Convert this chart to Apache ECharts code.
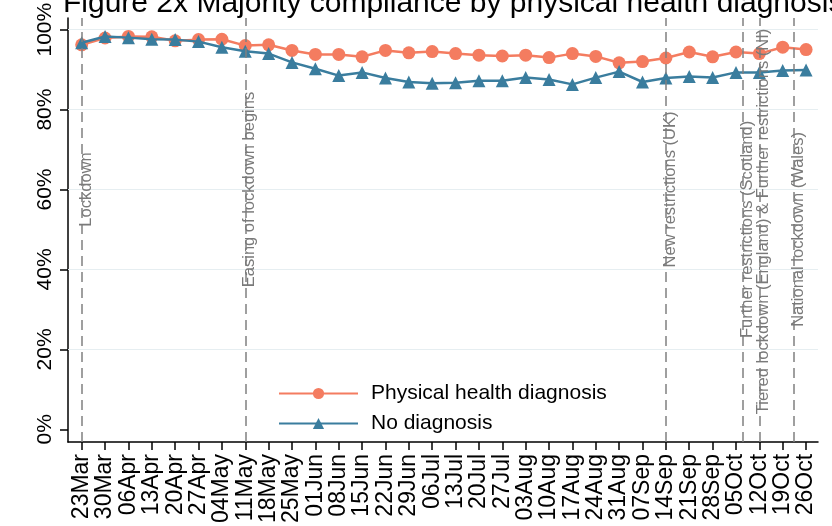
<!DOCTYPE html>
<head>
    <meta charset="UTF-8">
    <title>Majority compliance</title>
</head>
<body style="margin:0">
<div id="main" style="width:832px;height:526px"></div>
<script src="https://cdn.jsdelivr.net/npm/echarts@6.0.0/dist/echarts.min.js"></script>
<script type="text/javascript">
    var weeks = ['23Mar','30Mar','06Apr','13Apr','20Apr','27Apr','04May','11May','18May','25May',
        '01Jun','08Jun','15Jun','22Jun','29Jun','06Jul','13Jul','20Jul','27Jul','03Aug','10Aug',
        '17Aug','24Aug','31Aug','07Sep','14Sep','21Sep','28Sep','05Oct','12Oct','19Oct','26Oct'];
    var physical = [96.2,97.9,98.3,98.2,97.2,97.5,97.6,96.0,96.2,94.8,93.8,93.8,93.2,94.8,94.2,94.5,
        94.0,93.6,93.4,93.6,93.0,94.0,93.3,91.7,92.0,92.9,94.4,93.2,94.4,94.0,95.6,95.0];
    var noDiagnosis = [96.7,98.3,98.0,97.6,97.5,97.0,95.6,94.6,94.0,91.8,90.2,88.5,89.3,87.9,86.9,86.6,
        86.7,87.2,87.2,88.0,87.5,86.3,88.0,89.5,86.9,87.9,88.3,88.0,89.3,89.3,89.8,89.9];
    var yTicks = [0,20,40,60,80,100];
    // event dates as week index (fractional = between weeks)
    var eventAt = [0, 7, 25, 28.31, 29, 30.49];
    var eventNames = ['Lockdown','Easing of lockdown begins','New restrictions (UK)',
        'Further restrictions (Scotland)','Tiered lockdown (England) & Further restrictions (NI)',
        'National lockdown (Wales)'];
    var labelMid = [60, 60, 60, 50, 52, 50];

    var font = 'Liberation Sans, Arial, sans-serif';
    var orange = '#f47c60';
    var blue = '#3a7d9e';
    var idx = weeks.map(function (w, i) { return i; });

    var marks = [];
    yTicks.slice(1).forEach(function (t) {
        marks.push({yAxis: t, lineStyle: {color: '#e6eef1', width: 1, type: 'solid'}, label: {show: false}});
    });
    eventAt.forEach(function (x) {
        marks.push({xAxis: x, lineStyle: {color: '#808080', width: 1.5, type: [10, 6]}, label: {show: false}});
    });
    eventAt.forEach(function (x, i) {
        marks.push([
            {coord: [x, labelMid[i] - 10], lineStyle: {color: 'rgba(0,0,0,0)', width: 0},
                label: {show: true, position: 'insideMiddleBottom', distance: -4, formatter: eventNames[i],
                    color: '#7a7a7a', fontSize: 16.5, fontFamily: font}},
            {coord: [x, labelMid[i] + 10]}
        ]);
    });

    var option = {
        animation: false,
        title: {
            text: 'Figure 2x Majority compliance by physical health diagnosis',
            left: 58,
            top: -16,
            textStyle: {fontSize: 30, fontWeight: 'normal', color: '#000', fontFamily: font}
        },
        grid: {left: 68, right: 14, top: 15, bottom: 76},
        legend: {
            orient: 'vertical',
            left: 278,
            top: 383,
            padding: 0,
            itemWidth: 79,
            itemHeight: 14,
            itemGap: 9,
            textStyle: {fontSize: 21, lineHeight: 21, color: '#000', fontFamily: font, padding: [0, 0, 0, 8]},
            data: ['Physical health diagnosis', 'No diagnosis']
        },
        xAxis: {
            type: 'value',
            min: -0.586,
            max: 31.51,
            axisLine: {onZero: false, lineStyle: {color: '#000', width: 1.5}},
            axisTick: {customValues: idx, length: 8, lineStyle: {color: '#000', width: 1.5}},
            axisLabel: {
                customValues: idx,
                rotate: 90,
                margin: 12,
                fontSize: 23,
                color: '#000',
                fontFamily: font,
                formatter: function (v) { return weeks[Math.round(v)]; }
            },
            splitLine: {show: false}
        },
        yAxis: {
            type: 'value',
            min: -3.17,
            max: 102.93,
            axisLine: {show: true, onZero: false, lineStyle: {color: '#000', width: 1.5}},
            axisTick: {show: true, customValues: yTicks, length: 8, lineStyle: {color: '#000', width: 1.5}},
            axisLabel: {
                customValues: yTicks,
                rotate: 90,
                margin: 12,
                fontSize: 21,
                color: '#000',
                fontFamily: font,
                formatter: '{value}%'
            },
            splitLine: {show: false}
        },
        series: [
            {
                type: 'line',
                silent: true,
                data: [],
                z: 1,
                markLine: {symbol: 'none', silent: true, animation: false, data: marks}
            },
            {
                name: 'Physical health diagnosis',
                type: 'line',
                z: 3,
                symbol: 'circle',
                symbolSize: 13,
                data: physical.map(function (v, i) { return [i, v]; }),
                lineStyle: {color: orange, width: 2.5},
                itemStyle: {color: orange}
            },
            {
                name: 'No diagnosis',
                type: 'line',
                z: 4,
                symbol: 'triangle',
                symbolSize: 13,
                data: noDiagnosis.map(function (v, i) { return [i, v]; }),
                lineStyle: {color: blue, width: 2.5},
                itemStyle: {color: blue}
            }
        ]
    };

    var myChart = echarts.init(document.getElementById('main'));
    myChart.setOption(option);
</script>
</body>
